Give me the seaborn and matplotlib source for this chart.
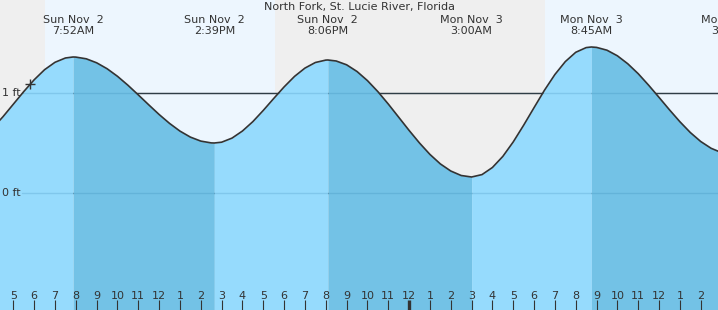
import matplotlib
matplotlib.use("Agg")
import matplotlib.pyplot as plt
import seaborn as sns
import pandas as pd

# ---- data (hours counted from Sun Nov 2 00:00, heights in ft) ----
title = "North Fork, St. Lucie River, Florida"
tide_hours = [4, 4.5, 5, 5.5, 6, 6.5, 7, 7.5, 7.867,
              8, 8.5, 9, 9.5, 10, 10.5, 11, 11.5, 12, 12.5, 13, 13.5, 14, 14.5, 14.65,
              15, 15.5, 16, 16.5, 17, 17.5, 18, 18.5, 19, 19.5, 20, 20.1,
              20.5, 21, 21.5, 22, 22.5, 23, 23.5, 24, 24.5, 25, 25.5, 26, 26.5, 27,
              27.5, 28, 28.5, 29, 29.5, 30, 30.5, 31, 31.5, 32, 32.5, 32.75,
              33, 33.5, 34, 34.5, 35, 35.5, 36, 36.5, 37, 37.5, 38, 38.5, 39]
tide_heights = [0.648, 0.762, 0.888, 1.014, 1.132, 1.233, 1.307, 1.350, 1.36,
                1.359, 1.342, 1.302, 1.243, 1.167, 1.078, 0.981, 0.882, 0.785, 0.696, 0.619, 0.559, 0.519, 0.501, 0.50,
                0.508, 0.549, 0.620, 0.714, 0.826, 0.945, 1.061, 1.166, 1.249, 1.305, 1.329, 1.33,
                1.320, 1.282, 1.215, 1.124, 1.014, 0.890, 0.758, 0.626, 0.500, 0.386, 0.291, 0.220, 0.175, 0.16,
                0.184, 0.255, 0.366, 0.511, 0.678, 0.854, 1.028, 1.185, 1.314, 1.407, 1.454, 1.46,
                1.456, 1.428, 1.372, 1.292, 1.193, 1.078, 0.956, 0.832, 0.713, 0.605, 0.515, 0.447, 0.404]
extreme_hours = [7.867, 14.65, 20.1, 27.0, 32.75, 39.5]
extreme_dates = ["Sun Nov  2", "Sun Nov  2", "Sun Nov  2", "Mon Nov  3", "Mon Nov  3", "Mon Nov  3"]
extreme_times = ["7:52AM", "2:39PM", "8:06PM", "3:00AM", "8:45AM", "3:30PM"]
sun_events = [6.51, 17.56, 30.52]           # sunrise, sunset, sunrise
tick_hours = list(range(5, 39))
tick_labels = ["5", "6", "7", "8", "9", "10", "11", "12", "1", "2", "3", "4", "5", "6", "7", "8",
               "9", "10", "11", "12", "1", "2", "3", "4", "5", "6", "7", "8", "9", "10", "11", "12",
               "1", "2"]
ref_levels = [1, 0]
ref_labels = ["1 ft", "0 ft"]
now_hour, now_height = 5.8, 1.09

# ---- layout ----
X0, X1 = 4.36, 38.83
Y0, Y1 = -1.17, 1.93
NIGHT, DAY = "#efefef", "#edf6fe"
RISE, FALL = "#96dbfd", "#73c2e6"
INK = "#333333"

sns.set_theme(style="white")
plt.rcParams["font.family"] = ["DejaVu Sans"]

fig = plt.figure(figsize=(7.18, 3.10), dpi=100)
ax = fig.add_axes([0, 0, 1, 1])
ax.set_xlim(X0, X1)
ax.set_ylim(Y0, Y1)
ax.set_axisbelow(False)
for s in ax.spines.values():
    s.set_visible(False)

# day / night background
bounds = [X0] + sun_events + [X1]
for i in range(len(bounds) - 1):
    ax.axvspan(bounds[i], bounds[i + 1], color=DAY if i % 2 == 1 else NIGHT, lw=0, zorder=0)

# reference lines (dark over sky)
for lv in ref_levels:
    ax.axhline(lv, xmin=22 / 718, xmax=1, color=INK, lw=1.0, zorder=1)

# fills split at extremes: rising light, falling dark
df = pd.DataFrame({"hour": tide_hours, "height": tide_heights})
cuts = [tide_hours[0]] + [h for h in extreme_hours if tide_hours[0] < h < tide_hours[-1]] + [tide_hours[-1]]
rising = True
for a, b in zip(cuts[:-1], cuts[1:]):
    seg = df[(df.hour >= a) & (df.hour <= b)]
    ax.fill_between(seg.hour, Y0, seg.height, color=RISE if rising else FALL, lw=0, zorder=2)
    rising = not rising

# faint reference lines visible through the water
for lv in ref_levels:
    ax.axhline(lv, xmin=22 / 718, xmax=1, color="#1f6f9f", alpha=0.18, lw=1.0, zorder=3)

sns.lineplot(data=df, x="hour", y="height", ax=ax, color=INK, lw=1.2, zorder=4, sort=True)
ax.plot([now_hour], [now_height], marker="+", ms=6.5, mew=1.0, color=INK, zorder=5)

# axis text
ax.set_xlabel("")
ax.set_ylabel("")
ax.set_yticks([])
ax.set_xticks(tick_hours)
ax.set_xticklabels([""] * len(tick_hours))
ax.tick_params(axis="x", direction="in", length=7, width=0.8, color=INK, bottom=True)
for t, h in zip(ax.xaxis.get_major_ticks(), tick_hours):
    if h == 24:
        t.tick1line.set_markeredgewidth(2.4)
xt = ax.get_xaxis_transform()
for h, lab in zip(tick_hours, tick_labels):
    ax.text(h, 14 / 310, lab, transform=xt, ha="center", va="center", fontsize=8, color=INK)

yt = ax.get_yaxis_transform()
for lv, lab in zip(ref_levels, ref_labels):
    ax.text(2 / 718, lv, lab, transform=yt, ha="left", va="center", fontsize=8, color=INK)

ax.text(0.5, 1 - 7 / 310, title, transform=ax.transAxes, ha="center", va="center", fontsize=8, color=INK)
for h, d, tm in zip(extreme_hours, extreme_dates, extreme_times):
    ax.text(h, 1 - 25.5 / 310, d + "\n" + tm, transform=xt, ha="center", va="center",
            multialignment="center", fontsize=8, color=INK, linespacing=1.15, clip_on=False)

fig.savefig("out.png", dpi=100)
